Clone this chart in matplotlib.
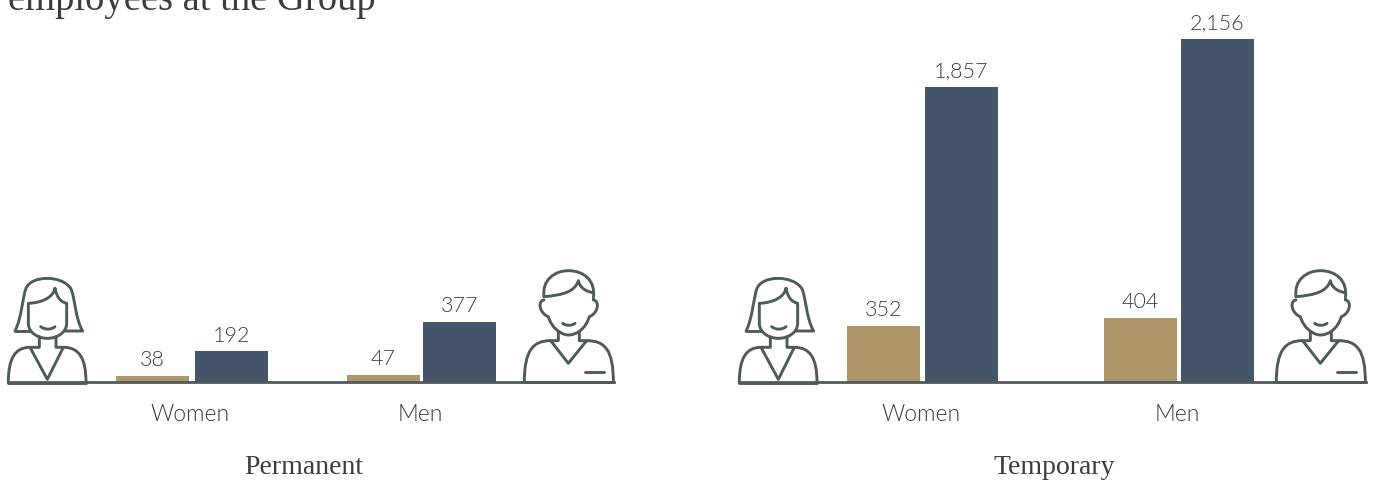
import matplotlib
matplotlib.use("Agg")
import matplotlib.pyplot as plt
from matplotlib.path import Path
from matplotlib.patches import PathPatch

W, H = 1378, 484

categories = ["Women", "Men"]
permanent_fixed = [38, 47]
permanent_indef = [192, 377]
temporary_fixed = [352, 404]
temporary_indef = [1857, 2156]
panel_titles = ["Permanent", "Temporary"]
title = "employees at the Group"

tan = "#ad9669"
navy = "#44546a"
line_col = "#4f5b5b"
text_col = "#3c3c3c"
BASE_Y = 382
TOP_Y = 39
BAR_W = 73
M, C, L = Path.MOVETO, Path.CURVE4, Path.LINETO

plt.rcParams["font.family"] = ["Lato", "DejaVu Sans"]
fig = plt.figure(figsize=(W / 100, H / 100), dpi=100)


def panel(x0, x1, centers, left, right, v1, v2):
    # one axes per panel, x in figure pixels so the bars line up easily
    ax = fig.add_axes([x0 / W, 1 - BASE_Y / H, (x1 - x0) / W, (BASE_Y - TOP_Y) / H])
    ax.set_xlim(x0, x1)
    ax.set_ylim(0, max(temporary_indef))
    b1 = ax.bar(left, v1, width=BAR_W, color=tan, linewidth=0)
    b2 = ax.bar(right, v2, width=BAR_W, color=navy, linewidth=0)
    for bars, vals in ((b1, v1), (b2, v2)):
        labels = [f"{v:,}" for v in vals]
        ax.bar_label(bars, labels=labels, padding=4, fontsize=15.5, fontweight=300,
                     color=text_col, clip_on=False)
    for s in ["top", "left", "right"]:
        ax.spines[s].set_visible(False)
    ax.spines["bottom"].set_linewidth(2)
    ax.spines["bottom"].set_color(line_col)
    ax.set_yticks([])
    ax.set_xticks(centers)
    ax.set_xticklabels(categories, fontsize=16.5, fontweight=300, color=text_col)
    ax.tick_params(axis="x", length=0, pad=16)
    ax.patch.set_visible(False)
    return ax


panel(8, 614, [190.5, 420.5], [152.5, 383.5], [231.5, 459.5], permanent_fixed, permanent_indef)
panel(739, 1366, [921, 1177], [883.5, 1140.5], [961.5, 1217.5], temporary_fixed, temporary_indef)

# overlay in pixel coords for the people icons and the serif text
ov = fig.add_axes([0, 0, 1, 1], zorder=5)
ov.set_xlim(0, W)
ov.set_ylim(H, 0)
ov.axis("off")


def stroke(verts, codes, ox, oy):
    pts = [(x / 3 + ox, y / 3 + oy) for x, y in verts]
    ov.add_patch(PathPatch(Path(pts, codes), fc="none", ec=line_col, lw=2.1,
                           capstyle="round", joinstyle="round"))


def woman(ox):
    oy = 260
    # hair
    stroke([(45, 213), (65, 175), (68, 110), (78, 85), (95, 45), (185, 45), (212, 85),
            (225, 110), (225, 175), (248, 213), (195, 213)],
           [M, C, C, C, C, C, C, C, C, C, L], ox, oy)
    stroke([(45, 213), (90, 213)], [M, L], ox, oy)
    # face and fringe
    stroke([(165, 85), (160, 110), (130, 128), (85, 130), (85, 190), (85, 215), (110, 235),
            (142, 235), (175, 235), (200, 215), (200, 190), (200, 130), (180, 125), (170, 110), (165, 85)],
           [M, C, C, C, L, C, C, C, C, C, C, L, C, C, C], ox, oy)
    # smile
    stroke([(122, 200), (135, 210), (152, 210), (165, 200)], [M, C, C, C], ox, oy)
    # neck + collar
    stroke([(118, 230), (118, 262), (90, 262), (142, 358), (190, 262), (168, 262), (168, 230)],
           [M, L, L, L, L, L, L], ox, oy)
    # shoulders
    stroke([(25, 368), (25, 295), (45, 262), (90, 262)], [M, C, C, C], ox, oy)
    stroke([(258, 368), (258, 295), (238, 262), (190, 262)], [M, C, C, C], ox, oy)
    stroke([(25, 368), (258, 368)], [M, L], ox, oy)


def man(ox):
    oy = 250
    # hair outline and fringe
    stroke([(192, 140), (185, 90), (225, 62), (265, 62), (310, 62), (348, 90), (340, 145)],
           [M, C, C, C, C, C, C], ox, oy)
    stroke([(192, 140), (250, 135), (285, 125), (295, 92), (300, 115), (320, 125), (340, 128)],
           [M, C, C, C, C, C, C], ox, oy)
    # ears and face
    stroke([(192, 150), (172, 152), (178, 190), (205, 200), (215, 235), (245, 255), (265, 255),
            (290, 255), (318, 235), (328, 200), (355, 190), (360, 152), (340, 150)],
           [M, C, C, C, C, C, C, C, C, C, C, C, C], ox, oy)
    stroke([(248, 220), (258, 228), (275, 228), (285, 220)], [M, C, C, C], ox, oy)
    # neck + collar
    stroke([(235, 245), (235, 272), (212, 272), (265, 340), (320, 272), (298, 272), (298, 245)],
           [M, L, L, L, L, L, L], ox, oy)
    # shoulders, bottom, pocket
    stroke([(133, 396), (133, 300), (160, 272), (212, 272)], [M, C, C, C], ox, oy)
    stroke([(400, 396), (400, 300), (375, 272), (320, 272)], [M, C, C, C], ox, oy)
    stroke([(133, 396), (400, 396)], [M, L], ox, oy)
    stroke([(315, 365), (372, 365)], [M, L], ox, oy)


woman(0)
woman(731)
man(480)
man(480 + 752)

serif = ["Liberation Serif", "DejaVu Serif"]
ov.text(8, 10, title, family=serif, fontsize=27.8, color=text_col, va="baseline", ha="left")
ov.text(304, 468, panel_titles[0], family=serif, fontsize=20, color=text_col, va="center", ha="center")
ov.text(1054, 468, panel_titles[1], family=serif, fontsize=20, color=text_col, va="center", ha="center")

plt.savefig("out.png", dpi=100)
